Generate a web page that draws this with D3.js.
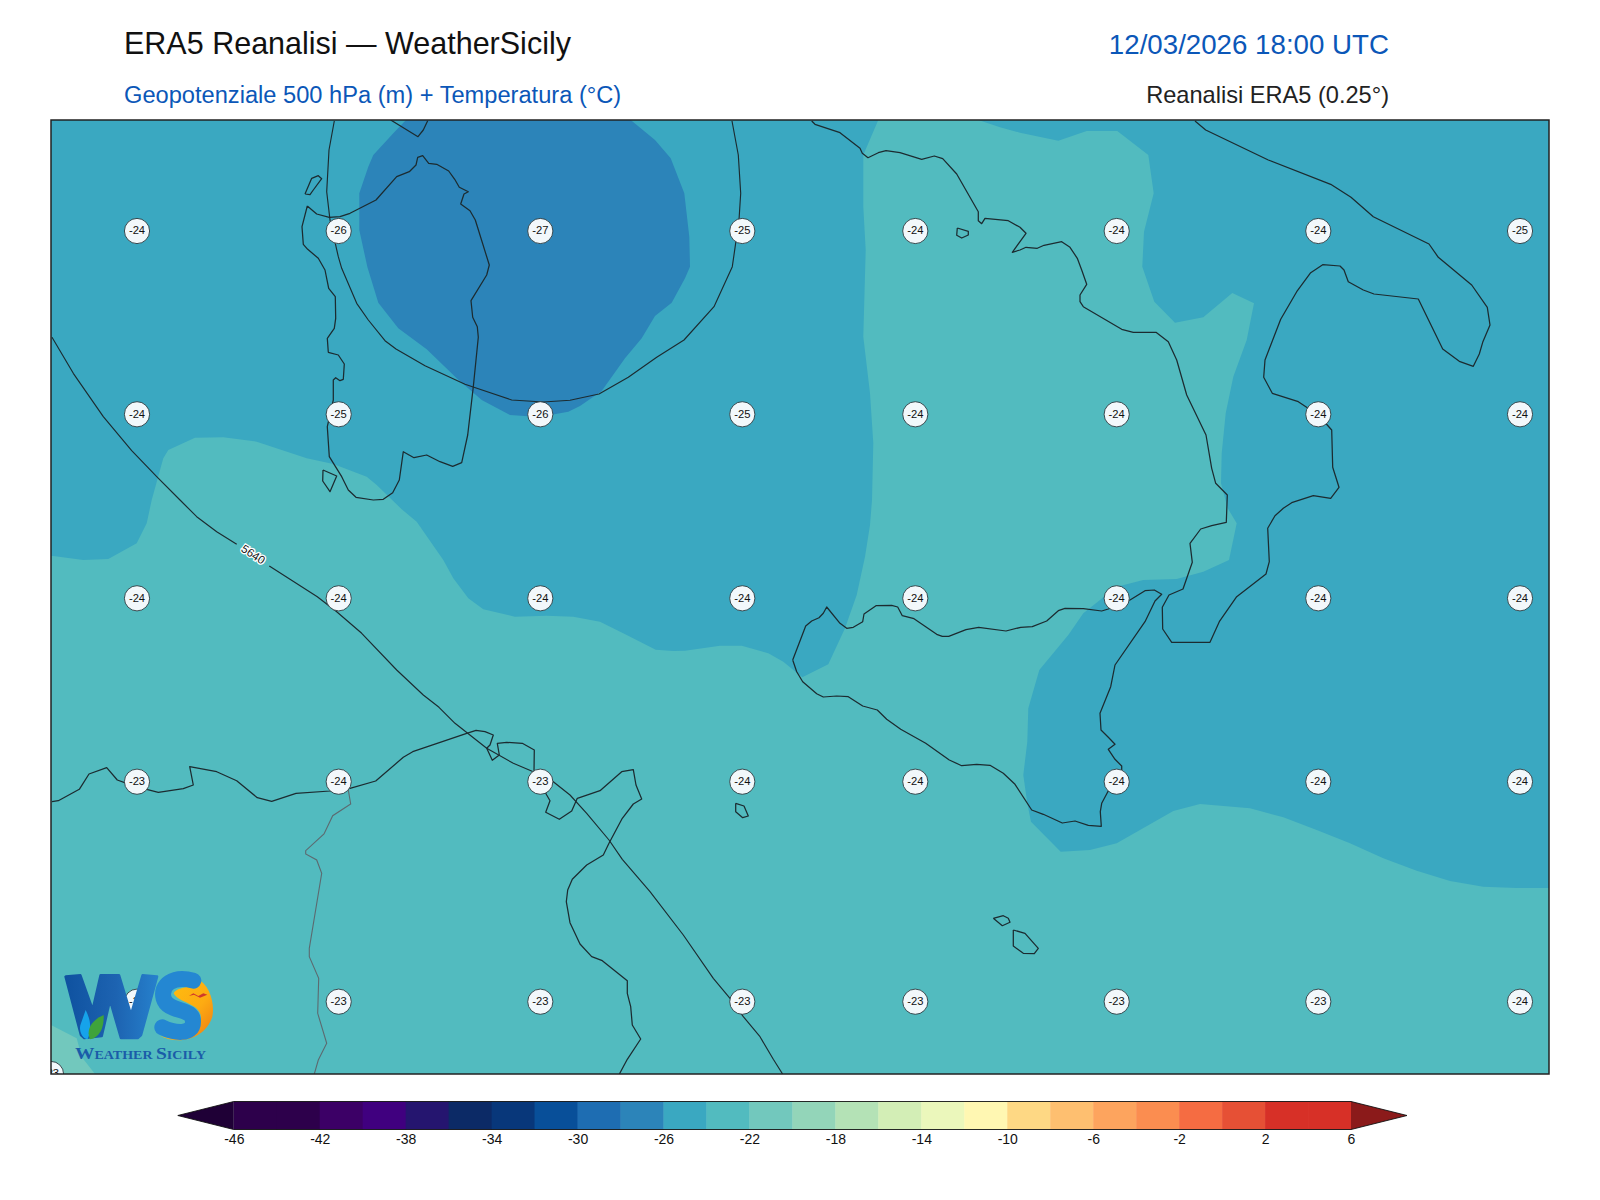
<!DOCTYPE html>
<html><head><meta charset="utf-8">
<script src="https://cdn.jsdelivr.net/npm/d3@7"></script>
<style>html,body{margin:0;background:#fff}svg{display:block}text{font-family:"Liberation Sans",Arial,sans-serif}</style>
</head><body><svg id="c" width="1600" height="1200"></svg>
<script>
// ---- Data: map-grid coordinates [east, north] ----
const gridWidth = 1498, gridHeight = 954;
const sardinia = [[256.3,868],[265.7,860],[278.3,856.7],[289,857.3],[299,860.7],[325,874],[345.7,897.3],[358.3,902.3],[365,909],[366.7,916.7],[371.7,918.3],[377.7,910.7],[385.7,909.7],[397.7,903],[403.7,894.7],[408.3,886.7],[417.3,882.3],[413,880],[409.7,870],[419,863.3],[424.3,854],[438.3,809],[435.7,799],[420,773.3],[421.7,756.7],[426.3,747.3],[427.3,736.7],[422.3,687.3],[416.7,639],[410.7,611.3],[401.7,607.7],[389,612.3],[375.7,619],[363,616.3],[352.3,622.3],[348.3,594],[341.7,581.3],[332.3,574.7],[322.3,574],[305,576.7],[297.3,584],[290.7,597.3],[278.3,617.3],[276.3,647.3],[282.3,674],[282.3,694],[284.7,696.3],[289,693.3],[292.3,694.7],[293.3,710],[287.3,719],[277.3,721.7],[276.3,735.7],[283.3,745.7],[284.7,755.7],[284.3,777.3],[277.7,785.7],[274,804],[267.3,815.7],[256.7,824.7],[252.3,829.7],[251,847.3],[256.3,868]];
const asinara = [[254,880],[260.7,895.7],[267.3,898.3],[270.7,895.3],[262.3,884],[259,879.3],[254,880]];
const santAntioco = [[272,604],[285.7,598],[279,582.3],[271.7,593],[272,604]];
const corsicaTip = [[339.7,954],[367,937.3],[372.3,944],[376.7,953.3]];
const sicily = [[741.7,414],[754.7,448],[760.7,453],[768,456.3],[772.3,460.7],[775.7,467],[789,450.7],[795.7,445.7],[802.3,446.7],[811.7,452.3],[813,460],[825,468.3],[840.7,468.7],[846.7,467],[851.3,458.3],[863,455.3],[885.7,439.7],[891.3,437.7],[897.7,437.7],[915,444.3],[927.7,446.7],[955,443],[969.7,446.7],[981.3,447.3],[995.7,453],[1007.3,463.3],[1014,465.7],[1032.3,465.3],[1050.7,463],[1057.3,465],[1079,474],[1094,483.3],[1103.3,484],[1110.7,479.7],[1104,473],[1094,452.3],[1064,409],[1059.7,387.3],[1049,360.7],[1050,344],[1057.3,336.7],[1064,329.7],[1057.3,324.7],[1064,314.7],[1070.7,308],[1070.7,304],[1056.3,281.3],[1050.7,270.7],[1049.3,262.3],[1050.3,247.7],[1037.3,248.7],[1024,253],[1011.3,251],[992.3,259.7],[980.7,264],[964,289.7],[952.3,300.7],[939,308.7],[925.7,309.7],[910.7,308.3],[898.3,314],[874.7,330.7],[849.7,344.7],[835.7,354.7],[826.3,364],[811.7,368],[797.3,377.3],[785.7,378],[772.3,377],[765.7,380.3],[751.7,392.3],[745.7,402.3],[741.7,414]];
const italy = [[760.7,953],[764,949.7],[789,941.3],[809,925.7],[811.3,920.7],[817,916.3],[827.3,921.3],[835,923.3],[849,921.3],[870.7,914.7],[883.3,918],[891.7,915.3],[905.7,900],[927.3,862.3],[927.3,853.3],[930.7,850.3],[934,855.7],[957.3,853.3],[969,846.7],[975,840.7],[961.3,821.7],[969,824],[975,826.7],[986.3,825.7],[993,828.7],[1010.7,832.3],[1019,826.7],[1026.3,815.7],[1030.7,804],[1035.7,789.7],[1029,779],[1029,772.3],[1032.3,767.3],[1070.7,744.7],[1082.3,741.7],[1105,741.7],[1117.3,732.3],[1125.7,714],[1135.7,679],[1155,639],[1160.7,605.7],[1164.7,590.7],[1176.3,579],[1175.3,551.7],[1160.7,548.3],[1149.7,545],[1139,530.7],[1141.3,511.7],[1132,485],[1118,479],[1111.3,466.7],[1111.7,445],[1120.7,431.7],[1159,431.7],[1168.3,452.3],[1185.7,477.3],[1215,500],[1218.3,512.3],[1216.7,545.7],[1224,558.3],[1232.3,565.7],[1240.7,571.3],[1262.3,578.3],[1279.7,575.7],[1288,586.7],[1281.7,606.7],[1280.7,644],[1267.3,659],[1247.3,672.3],[1221.3,680.7],[1212.7,696.7],[1214,714],[1229.7,754.7],[1245.7,782.3],[1259.7,801.3],[1271.7,809.3],[1289,808],[1293,804],[1297.3,792.3],[1312.3,784],[1323,780],[1367.3,775],[1391.7,725],[1408.3,712.7],[1422.3,707.7],[1428.3,720],[1431.7,731.7],[1439,749],[1436.3,766.7],[1420.7,789],[1387.3,816.7],[1378,830],[1322.3,857.3],[1300,876.7],[1279.7,889.7],[1217.3,914],[1154.7,944],[1144,953]];
const capri = [[906.3,846],[917.3,842.7],[917.3,839],[910.7,836],[905.7,838.7],[906.3,846]];
const pantelleria = [[684.7,270.7],[693,268],[697.3,258],[691.7,256.3],[684.7,262.3],[684.7,270.7]];
const gozo = [[942.3,155.7],[952.3,158.3],[957.3,155.7],[959,151.7],[951.3,148.3],[942.3,155.7]];
const malta = [[962.3,144],[974,140.7],[987.3,125.7],[983.3,120.3],[972.3,120.7],[962.3,128],[962.3,144]];
const northAfrica = [[1,272.3],[7.3,273.3],[28.3,284.7],[38,300],[55.7,306.3],[66.3,294],[75.7,290.7],[95.7,284.7],[107.3,281.7],[132.3,285.3],[142.3,289],[138.7,307.3],[165.7,302.3],[185.7,293.3],[206.3,276.3],[220.7,272.7],[245,280.7],[279,283],[299,285.7],[324.7,293],[352.3,316.7],[361.7,322.3],[415.7,340.7],[425,343.7],[434,342.3],[442.3,339],[439,329],[435.7,325.7],[441.3,313.7],[448.3,319],[446.3,330.7],[455.7,331.7],[471.3,330.7],[483.3,324],[483,302.3],[495.7,279],[499,273.3],[494.7,261.7],[508.3,254.7],[520.7,263],[526.3,275.7],[549,283.3],[570.7,302.3],[582.3,304.3],[585,289],[590.7,275],[582.3,270],[571.3,255.7],[558,230.7],[552.3,219],[535.7,209],[521.3,194.7],[516.7,184],[515.3,172.3],[519,151.3],[529,130],[540.7,117.3],[551.3,113.3],[576.3,93.3],[576.3,80.7],[579.7,67.3],[581.3,49],[589.7,35],[576.3,14.7],[568.4,0]];
const tunisiaBorder = [[297.3,284],[299.7,270],[281.7,258.3],[273,240],[254.7,223.3],[254.7,220],[265.7,214],[270.7,200.7],[258.3,125.7],[258.3,117.3],[267.7,95.7],[266.7,60.7],[275.7,30.7],[267.3,14],[263.3,0]];
const coastLines = [sardinia, asinara, santAntioco, corsicaTip, sicily, italy, capri, pantelleria, gozo, malta, northAfrica];

const geopotentialUpper = [[283.3,953],[278,924],[275.7,882.3],[279,854],[287.3,817.3],[290.7,805.7],[305.7,770.7],[317.3,754],[334,733.3],[345,725],[374,708.3],[414,689.7],[460.7,674],[492.3,672],[519,673.7],[548,680],[577.3,696.7],[605.7,716.7],[633,734],[663,767.3],[681.3,807.3],[688,854],[689.7,880.7],[687.3,919],[681,953]];
const contour5640a = [[1,736.7],[22.3,700.7],[52.3,657.3],[80.7,623.3],[105.7,597.3],[129,574],[145.7,557.3],[165.7,542.3],[185.7,529.7]];
const contour5640b = [[218.3,508],[239,494.7],[266.3,477.3],[285.7,462.3],[310.7,440.7],[345.7,404],[372.3,379],[388,366.7],[404,350.7],[435.7,325.7],[462.3,310.7],[482.3,302.3],[502.3,292.3],[519,279],[535.7,260.7],[558,234],[571.3,214.7],[599,182.3],[632.3,139],[662.3,95.7],[679,75.7],[692.3,57.3],[709,37.3],[722.3,14.7],[731.6,0]];
const contourLabelText = "5640", contourLabelAt = [202.3,519.7], contourLabelAngle = 33;

// Temperature bands: lower limit of band -> polygons
const band_24 = [[0,0],[1498,0],[1498,954],[0,954]];
const band_26a = [[827.3,954],[812.3,919],[812.3,867.3],[814.7,824],[812.3,737.3],[819,680.7],[822.3,630.7],[821,574],[819,549],[814,517.3],[805.7,479],[794,445.7],[777.3,409.7],[751.3,396.7],[732.3,412.3],[717.3,420.7],[690.7,428.3],[669,428.3],[634,423.3],[622.3,423],[604.7,424.3],[575.7,439],[549,452.3],[522.3,457.3],[495.7,458.3],[464,457.3],[432.3,464.7],[417.3,475.7],[402.3,495.7],[392.3,514],[365.7,552.3],[350.7,564.7],[325.7,589],[315.7,597.3],[282.3,610],[255.7,615.7],[205.7,632.3],[172.3,636.7],[144,636.3],[117.3,624],[112.3,615.7],[100.7,574],[95.7,550.7],[85.7,530.7],[57.3,515],[32.3,514],[2.3,518],[0,518],[0,954]];
const band_26b = [[927.3,954],[949,946.7],[969,941.3],[1007.3,933.3],[1035.7,943],[1066.3,943],[1097.3,919],[1102.7,880.7],[1093,842.3],[1091.3,807.3],[1103.3,772.3],[1124,751.3],[1152.3,756.7],[1181.3,781],[1203,770.7],[1195.7,734],[1182.3,697.3],[1174.7,660.7],[1170.7,620.7],[1170,590.7],[1176.7,565.7],[1185.7,550.7],[1178,514],[1152.3,502.3],[1125.7,495],[1092.3,494],[1064,486.7],[1049,474],[1032.3,460.7],[1017.3,439],[988.3,404],[977.3,365.7],[976.3,332.3],[972.3,299],[976.3,270.7],[980,252.3],[1009.7,222.3],[1039,224],[1065.7,230.7],[1122.3,263],[1149,270],[1199,265.7],[1232.3,256.7],[1265.7,244],[1299,230.7],[1332.3,215.7],[1365.7,203.3],[1399,193],[1432.3,187.3],[1465.7,186],[1498,186],[1498,954]];
const band_28 = [[355,954],[342.3,940.7],[322.3,919],[317.3,907.3],[308.3,880.7],[308.3,844],[316.3,807.3],[327.3,771.3],[347.3,745.7],[375.7,724.7],[405.7,695.7],[430.7,674],[459,659],[488,657],[517.3,662.3],[529,668],[550.7,683],[574,715.7],[590.7,735.7],[604,758],[620.7,771.3],[634,795.7],[639,807.3],[638.3,837.3],[633.3,880.7],[619.7,915.7],[604,934],[579.7,954]];
const band_22 = [[0,49],[25.7,35.7],[30.7,17],[44,0],[0,0]];
const bands = [
  {low:-24, polys:[band_24]},
  {low:-26, polys:[band_26a, band_26b]},
  {low:-28, polys:[band_28]},
  {low:-22, polys:[band_22]}
];

// Point temperature labels
const labelEast = [86,287.7,489.3,691.3,864.3,1065.7,1267.3,1469];
const labelNorth = [843,659.7,475.7,292.3,72.3];
const labelTemps = [
  [-24,-26,-27,-25,-24,-24,-24,-25],
  [-24,-25,-26,-25,-24,-24,-24,-24],
  [-24,-24,-24,-24,-24,-24,-24,-24],
  [-23,-24,-23,-24,-24,-24,-24,-24],
  [-23,-23,-23,-23,-23,-23,-23,-24]
];
const cornerLabel = {east:0, north:0, temp:-23};

// Colour scale
const levels = d3.range(-46, 7, 2);
const bandColors = ["#2d004b","#2d004b","#3c0066","#40007f","#25156f","#0c2a66","#08377a","#084f99","#1e6db2","#2c84b9","#3aa8c1","#52bbbf","#72c8bd","#93d5b9","#b4e2b6","#d3eeb6","#ebf7bb","#fff7b2","#fed884","#febf70","#fda45e","#fb8d50","#f56c42","#e65035","#d73027","#d73027"];
const underColor = "#1f0036", overColor = "#8b1a1a";
const tickValues = d3.range(-46, 7, 4);

const titleLeft = "ERA5 Reanalisi — WeatherSicily";
const titleRight = "12/03/2026 18:00 UTC";
const subLeft = "Geopotenziale 500 hPa (m) + Temperatura (°C)";
const subRight = "Reanalisi ERA5 (0.25°)";

// ---- Drawing ----
const svg = d3.select("#c");
const frame = {l:51, r:1549, t:120, b:1074};
const x = d3.scaleLinear().domain([0, gridWidth]).range([frame.l, frame.r]);
const y = d3.scaleLinear().domain([0, gridHeight]).range([frame.b, frame.t]);
const line = d3.line().x(d => x(d[0])).y(d => y(d[1]));
const colorOf = d3.scaleThreshold().domain(levels.slice(1, -1)).range(bandColors);

svg.append("rect").attr("width",1600).attr("height",1200).attr("fill","#fff");
svg.append("defs").append("clipPath").attr("id","mapClip").append("rect")
  .attr("x",frame.l).attr("y",frame.t).attr("width",frame.r-frame.l).attr("height",frame.b-frame.t);
const map = svg.append("g").attr("clip-path","url(#mapClip)");

bands.forEach(b => {
  map.selectAll(null).data(b.polys).join("path")
    .attr("d", d => line(d) + "Z").attr("fill", colorOf(b.low + 0.5)).attr("stroke","none");
});
map.selectAll(null).data(coastLines).join("path")
  .attr("d", line).attr("fill","none").attr("stroke","#1c2b30").attr("stroke-width",1.25).attr("stroke-linejoin","round");
map.append("path").attr("d", line(tunisiaBorder)).attr("fill","none").attr("stroke","#5c6a70").attr("stroke-width",1.1);
map.selectAll(null).data([geopotentialUpper, contour5640a, contour5640b]).join("path")
  .attr("d", line).attr("fill","none").attr("stroke","#1c2b30").attr("stroke-width",1.15).attr("stroke-linejoin","round");

map.append("text")
  .attr("transform",`translate(${x(contourLabelAt[0])},${y(contourLabelAt[1])}) rotate(${contourLabelAngle})`)
  .attr("text-anchor","middle").attr("dy","0.35em").attr("font-size",11.5)
  .attr("fill","#111").attr("stroke","#fff").attr("stroke-width",2.6).attr("paint-order","stroke").text(contourLabelText);

const pts = [];
labelTemps.forEach((row,i) => row.forEach((t,j) => pts.push({e:labelEast[j], n:labelNorth[i], t})));
pts.push({e:cornerLabel.east, n:cornerLabel.north, t:cornerLabel.temp});
const lab = map.selectAll(null).data(pts).join("g").attr("transform", d => `translate(${x(d.e)},${y(d.n)})`);
lab.append("circle").attr("r",12.6).attr("fill","#f2f8fb").attr("stroke","#2a3a40").attr("stroke-width",0.9);
lab.append("text").attr("text-anchor","middle").attr("dy","0.3em").attr("font-size",11.2).attr("fill","#111").text(d => d.t);

svg.append("rect").attr("x",frame.l).attr("y",frame.t).attr("width",frame.r-frame.l).attr("height",frame.b-frame.t)
  .attr("fill","none").attr("stroke","#222").attr("stroke-width",1.5);

// Logo
const defs = svg.select("defs");
const logo = svg.append("g").attr("transform","translate(45,960) scale(0.3333)");
const grad = defs.append("linearGradient").attr("id","sun").attr("x1",0).attr("y1",0).attr("x2",1).attr("y2",1);
grad.append("stop").attr("offset","0").attr("stop-color","#ffc20e");
grad.append("stop").attr("offset","0.6").attr("stop-color","#fdab12");
grad.append("stop").attr("offset","1").attr("stop-color","#ee7a12");
const wg = defs.append("linearGradient").attr("id","wBlue").attr("x1",0).attr("y1",0).attr("x2",1).attr("y2",0);
wg.append("stop").attr("offset","0").attr("stop-color","#0f52a0");
wg.append("stop").attr("offset","0.55").attr("stop-color","#1d63b1");
wg.append("stop").attr("offset","1").attr("stop-color","#2680cc");
logo.append("path").attr("d","M62 50L106 46L143 150L167 46L222 46L258 165L293 46L336 50L288 225L278 234L228 234L195 120L170 228L118 234L108 225Z")
  .attr("fill","url(#wBlue)").attr("stroke","url(#wBlue)").attr("stroke-width",8).attr("stroke-linejoin","round");
logo.append("path").attr("d","M122 150C135 175 142 205 128 238C108 234 100 205 108 190Z").attr("fill","#16a3ea");
logo.append("path").attr("d","M176 165C178 200 165 234 135 238C122 210 140 180 176 165Z").attr("fill","#3fa33a");
logo.append("path").attr("d","M455 55C495 75 510 130 502 170C482 232 410 258 345 228C400 245 455 225 468 175C470 130 400 130 386 100C400 75 450 90 455 55Z").attr("fill","url(#sun)");
logo.append("path").attr("d","M445 62C385 45 345 75 356 115C368 160 444 140 444 185C444 228 385 218 352 202").attr("fill","none").attr("stroke","#2487d2").attr("stroke-width",48).attr("stroke-linecap","round");
logo.append("path").attr("d","M432 108L445 100L460 108L475 100L487 104L465 113L447 104Z").attr("fill","#d0392b");
const logoText = logo.append("text").attr("x",90).attr("y",296).attr("fill","#1a5ca8").attr("font-weight","bold").attr("font-size",36).attr("textLength",393).attr("lengthAdjust","spacingAndGlyphs").attr("style","font-family:'Liberation Serif'");
[["W",50],["EATHER ",36],["S",50],["ICILY",36]].forEach(([s,f]) => logoText.append("tspan").attr("font-size",f).text(s));

// Titles
svg.append("text").attr("x",124).attr("y",54).attr("font-size",30.5).attr("fill","#111").text(titleLeft);
svg.append("text").attr("x",1389).attr("y",54).attr("text-anchor","end").attr("font-size",27.7).attr("fill","#0b57b8").text(titleRight);
svg.append("text").attr("x",124).attr("y",103).attr("font-size",23.65).attr("fill","#0b57b8").text(subLeft);
svg.append("text").attr("x",1389).attr("y",103).attr("text-anchor","end").attr("font-size",23.6).attr("fill","#222").text(subRight);

// Colourbar
const cbTop = 1101.5, cbBot = 1129.5, cbTipL = 177.8, cbTipR = 1407;
const cx = d3.scaleLinear().domain([-46, 6]).range([233.8, 1351]);
const cbMid = (cbTop + cbBot) / 2;
const cb = svg.append("g");
cb.selectAll(null).data(bandColors).join("rect")
  .attr("x",(d,i) => cx(levels[i])).attr("y",cbTop).attr("width",(d,i) => cx(levels[i+1]) - cx(levels[i]) + 0.4).attr("height",cbBot-cbTop).attr("fill",d => d);
cb.append("path").attr("d",`M${cx(-46)} ${cbTop}L${cbTipL} ${cbMid}L${cx(-46)} ${cbBot}Z`).attr("fill",underColor);
cb.append("path").attr("d",`M${cx(6)} ${cbTop}L${cbTipR} ${cbMid}L${cx(6)} ${cbBot}Z`).attr("fill",overColor);
cb.append("path").attr("d",`M${cx(-46)} ${cbTop}L${cbTipL} ${cbMid}L${cx(-46)} ${cbBot}L${cx(6)} ${cbBot}L${cbTipR} ${cbMid}L${cx(6)} ${cbTop}Z`).attr("fill","none").attr("stroke","#111").attr("stroke-width",0.9);
const axis = d3.axisBottom(cx).tickValues(tickValues).tickSize(0).tickPadding(5).tickFormat(d => String(d));
const ag = svg.append("g").attr("transform",`translate(0,${cbBot})`).call(axis);
ag.select(".domain").remove();
ag.selectAll("text").attr("font-size",14).attr("style","font-family:'Liberation Sans'").attr("fill","#111");
</script></body></html>
